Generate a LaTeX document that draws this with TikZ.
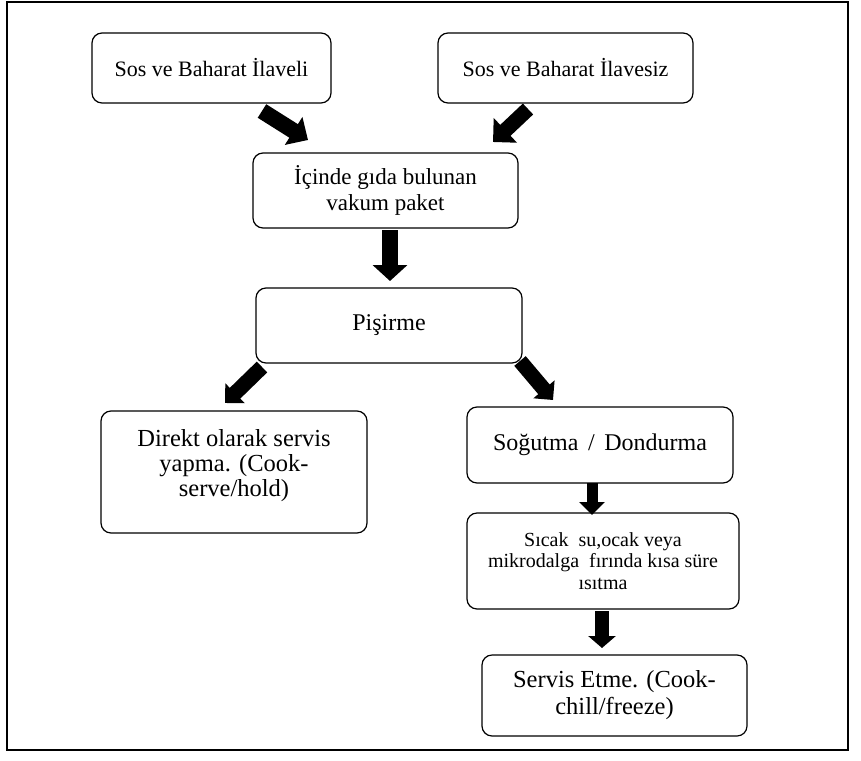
\documentclass[tikz,border=0pt]{standalone}
\usepackage{fontspec}
\setmainfont{Liberation Serif}
\usetikzlibrary{arrows.meta}
\tikzset{
  flowbox/.style={draw, line width=1.2pt, rounded corners=10pt, inner sep=0pt, align=center, fill=white},
  bigarrow/.style n args={3}{line width=#1, -{Triangle[width=#2,length=#3]}},
}
\begin{document}
\begin{tikzpicture}[x=1pt,y=-1pt]
\useasboundingbox (0,0) rectangle (861,760);
\draw[line width=2pt] (7,2) rectangle (848,750);

\node[flowbox, minimum width=239pt, minimum height=70pt, font=\fontsize{22}{26}\selectfont] (b1) at (211.5,68) {Sos ve Baharat İlaveli};
\node[flowbox, minimum width=255pt, minimum height=70pt, font=\fontsize{22}{26}\selectfont] (b2) at (565.5,68) {Sos ve Baharat İlavesiz};
\node[flowbox, minimum width=265pt, minimum height=75pt, font=\fontsize{23}{26}\selectfont] (b3) at (385.5,190.5) {İçinde gıda bulunan\\vakum paket};
\node[flowbox, minimum width=266pt, minimum height=75pt, font=\fontsize{24}{27}\selectfont] (b4) at (389,325.5) {Pişirme};
\node[flowbox, minimum width=266pt, minimum height=122pt, font=\fontsize{24.5}{26}\selectfont] (b5) at (234,472) {\raisebox{6pt}[\height][\depth]{\begin{tabular}{@{}c@{}}Direkt olarak servis\\[-1pt]yapma. (Cook-\\[-1pt]serve/hold)\end{tabular}}};
\node[flowbox, minimum width=266pt, minimum height=76pt, font=\fontsize{24}{27}\selectfont] (b6) at (600,445) {Soğutma\hspace{0.4em}/\hspace{0.4em}Dondurma};
\node[flowbox, minimum width=272pt, minimum height=96pt, font=\fontsize{20}{21.5}\selectfont] (b7) at (603,561) {Sıcak\ \ su,ocak veya\\mikrodalga\ \ fırında kısa süre\\ısıtma};
\node[flowbox, minimum width=265pt, minimum height=81pt, font=\fontsize{24.5}{27}\selectfont] (b8) at (614.5,695.5) {Servis Etme. (Cook-\\chill/freeze)};

\coordinate (a1s) at (262,111);  \coordinate (a1e) at (308,140);
\coordinate (a2s) at (528,109);  \coordinate (a2e) at (493,142);
\coordinate (a3s) at (390,230);  \coordinate (a3e) at (390,281);
\coordinate (a4s) at (262,367);  \coordinate (a4e) at (225,403);
\coordinate (a5s) at (520,361);  \coordinate (a5e) at (553,400);
\coordinate (a6s) at (592,483);  \coordinate (a6e) at (592,515);
\coordinate (a7s) at (602,611);  \coordinate (a7e) at (602,648);

\draw[bigarrow={16pt}{32pt}{17pt}] (a1s) -- (a1e);
\draw[bigarrow={15pt}{33pt}{17pt}] (a2s) -- (a2e);
\draw[bigarrow={16pt}{34pt}{16pt}] (a3s) -- (a3e);
\draw[bigarrow={15pt}{27pt}{14pt}] (a4s) -- (a4e);
\draw[bigarrow={15pt}{27pt}{14pt}] (a5s) -- (a5e);
\draw[bigarrow={11pt}{25pt}{13pt}] (a6s) -- (a6e);
\draw[bigarrow={14pt}{27pt}{12pt}] (a7s) -- (a7e);
\end{tikzpicture}
\end{document}
